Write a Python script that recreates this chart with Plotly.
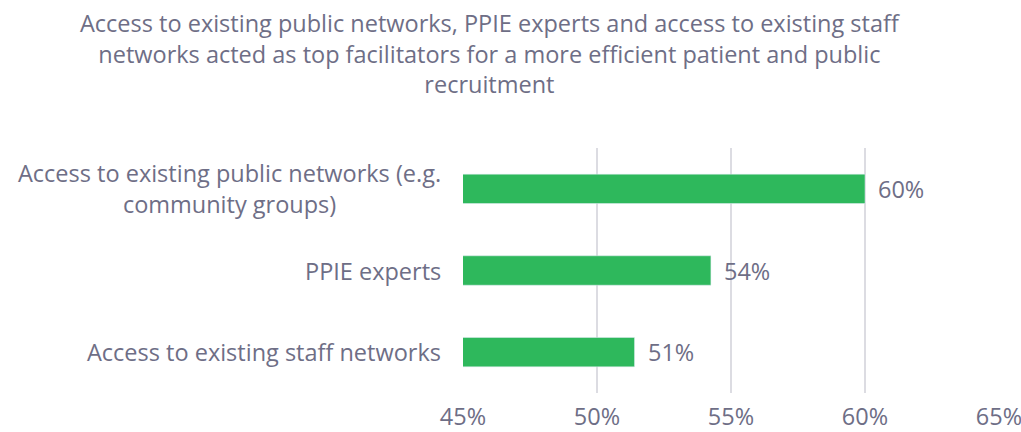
import plotly.graph_objects as go

# Survey results: share of respondents naming each facilitator
categories = [
    "Access to existing public networks (e.g.<br>community groups)",
    "PPIE experts",
    "Access to existing staff networks",
]
values = [60.0, 54.25, 51.4]
x_ticks = [45, 50, 55, 60, 65]

title_text = ("Access to existing public networks, PPIE experts and access to existing staff<br>"
              "networks acted as top facilitators for a more efficient patient and public<br>"
              "recruitment")

TEXT = "#6e6e86"
GREEN = "#2eb85c"
FONT = "Open Sans"
FS = 23.5

fig = go.Figure()
fig.add_trace(go.Bar(
    x=values,
    y=categories,
    orientation="h",
    marker=dict(color=GREEN),
    width=0.36,
    hoverinfo="skip",
))

# value labels to the right of each bar
for c, v in zip(categories, values):
    fig.add_annotation(
        x=v, y=c, xref="x", yref="y",
        text=f"{v:.0f}%", showarrow=False,
        xanchor="left", xshift=11,
        font=dict(family=FONT, size=FS, color=TEXT),
    )

# category labels, each centred on its own lines
for c in categories:
    fig.add_annotation(
        x=0, y=c, xref="paper", yref="y",
        text=c, showarrow=False, align="center",
        xanchor="right", xshift=-20,
        font=dict(family=FONT, size=FS, color=TEXT),
    )

# chart heading
fig.add_annotation(
    x=0.05, y=1.585, xref="paper", yref="paper",
    text=title_text, showarrow=False, align="center",
    xanchor="center", yanchor="top",
    font=dict(family=FONT, size=FS, color=TEXT),
)

fig.update_layout(
    width=1021, height=432,
    margin=dict(l=463, r=22, t=148, b=39, autoexpand=False),
    paper_bgcolor="white", plot_bgcolor="white",
    showlegend=False,
    font=dict(family=FONT, size=FS, color=TEXT),
)

fig.update_xaxes(
    range=[45, 65],
    tickvals=x_ticks,
    ticktext=[f"{t}%" for t in x_ticks],
    showgrid=True, gridcolor="#dcdce2", gridwidth=2,
    zeroline=False, showline=False,
    ticks="", ticklabelstandoff=7, ticklabeloverflow="allow",
    tickfont=dict(family=FONT, size=FS, color=TEXT),
    automargin=False, fixedrange=True,
)
fig.update_yaxes(
    categoryorder="array", categoryarray=categories,
    autorange="reversed",
    showticklabels=False, showgrid=False, zeroline=False, showline=False,
    ticks="", automargin=False, fixedrange=True,
)

fig.write_html("out.html", config={"displayModeBar": False})
